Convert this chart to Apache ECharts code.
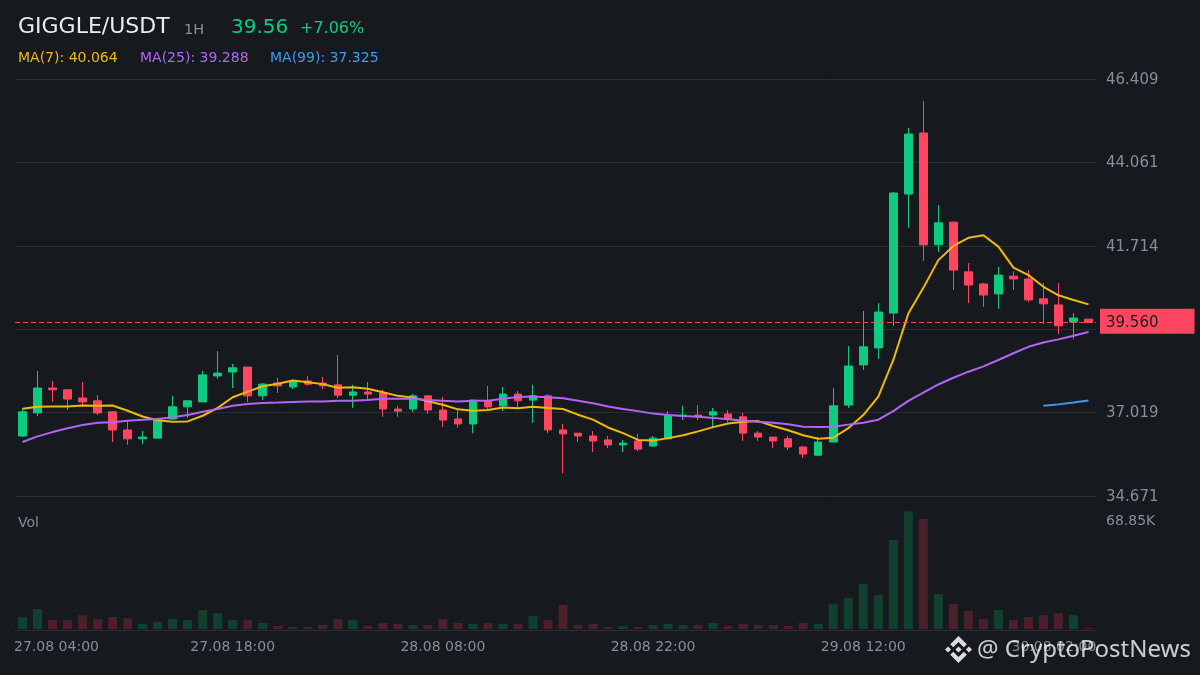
<!DOCTYPE html>
<html><head><meta charset="utf-8">
<style>html,body{margin:0;padding:0;background:#161a1e}#c{width:1200px;height:675px}</style>
<script src="https://cdn.jsdelivr.net/npm/echarts@6/dist/echarts.min.js"></script>
</head><body><div id="c"></div>
<script>
const opens=[36.36,37.01,37.71,37.66,37.43,37.35,37.04,36.53,36.28,36.30,36.84,37.18,37.32,38.05,38.16,38.30,37.49,37.85,37.74,37.91,37.85,37.80,37.51,37.60,37.57,37.12,37.12,37.49,37.09,36.84,36.70,37.35,37.21,37.54,37.37,37.49,36.53,36.44,36.36,36.25,36.11,36.22,36.08,36.28,36.92,36.95,36.95,36.98,36.90,36.44,36.33,36.28,36.05,35.82,36.19,37.23,38.36,38.84,39.82,43.17,44.89,41.74,42.38,40.98,40.64,40.36,40.86,40.78,40.22,40.05,39.57,39.65];
const closes=[37.04,37.71,37.66,37.40,37.32,37.01,36.53,36.28,36.33,36.84,37.18,37.35,38.08,38.13,38.28,37.49,37.82,37.77,37.91,37.82,37.77,37.51,37.60,37.54,37.12,37.06,37.49,37.09,36.81,36.70,37.37,37.18,37.54,37.35,37.49,36.53,36.42,36.36,36.22,36.11,36.16,35.99,36.30,36.95,36.95,36.90,37.04,36.84,36.44,36.33,36.22,36.05,35.85,36.19,37.21,38.33,38.87,39.85,43.20,44.86,41.74,42.36,41.03,40.61,40.33,40.89,40.78,40.19,40.08,39.46,39.68,39.56];
const lows=[36.33,36.92,37.32,37.09,37.18,36.95,36.19,36.11,36.13,36.30,36.81,36.87,37.32,37.97,37.71,37.32,37.37,37.57,37.68,37.77,37.68,37.43,37.15,37.37,36.90,36.90,37.04,36.98,36.61,36.59,36.44,37.09,37.06,37.15,36.73,36.44,35.31,36.19,35.91,36.02,35.91,35.93,36.05,36.28,36.81,36.81,36.61,36.75,36.22,36.22,36.02,35.96,35.74,35.79,36.19,37.15,38.22,38.53,39.46,42.22,41.29,41.54,40.47,40.10,39.99,39.94,40.47,40.13,39.51,39.23,39.09,39.56];
const highs=[37.15,38.19,37.91,37.66,37.88,37.51,37.06,36.78,36.50,36.87,37.49,37.35,38.19,38.75,38.39,38.30,37.85,38.00,37.94,38.05,38.02,38.64,37.80,37.88,37.66,37.21,37.54,37.49,37.46,37.09,37.37,37.77,37.74,37.63,37.80,37.54,36.70,36.44,36.50,36.36,36.25,36.42,36.36,37.06,37.21,37.23,37.15,37.09,37.01,36.50,36.33,36.36,36.08,36.33,37.71,38.89,39.88,40.10,43.23,45.03,45.79,42.86,42.38,41.23,40.67,41.12,41.00,41.03,40.67,40.67,39.82,39.65];
const ma7=[37.13,37.18,37.19,37.19,37.22,37.21,37.22,37.07,36.91,36.80,36.76,36.77,36.93,37.15,37.45,37.61,37.76,37.83,37.92,37.87,37.82,37.72,37.73,37.69,37.59,37.49,37.44,37.34,37.24,37.11,37.07,37.09,37.16,37.14,37.18,37.15,37.12,36.96,36.82,36.60,36.44,36.25,36.23,36.30,36.38,36.49,36.61,36.71,36.76,36.78,36.64,36.52,36.38,36.28,36.31,36.58,36.95,37.47,38.50,39.81,40.53,41.31,41.71,41.94,42.01,41.69,41.10,40.89,40.56,40.32,40.19,40.064];
const ma25=[36.19,36.35,36.47,36.58,36.67,36.73,36.75,36.79,36.82,36.84,36.89,36.95,37.04,37.12,37.21,37.26,37.29,37.30,37.32,37.33,37.33,37.35,37.35,37.37,37.41,37.41,37.41,37.37,37.35,37.33,37.35,37.35,37.41,37.46,37.47,37.45,37.42,37.35,37.28,37.19,37.12,37.06,36.99,36.95,36.92,36.90,36.87,36.83,36.79,36.76,36.73,36.69,36.62,36.61,36.62,36.68,36.73,36.82,37.06,37.35,37.58,37.81,38.00,38.17,38.32,38.50,38.69,38.87,38.99,39.08,39.18,39.288];
const ma99Tail=[37.21,37.25,37.30,37.36];
const volumesK=[7.6,12.6,5.7,5.7,8.8,6.3,7.6,6.9,3.2,4.4,6.3,5.7,12.0,10.1,5.7,5.7,3.8,1.9,1.3,1.3,2.5,6.3,5.7,1.9,3.8,3.2,2.5,2.5,6.3,3.8,3.2,3.8,3.2,3.2,8.2,5.7,15.2,2.5,3.2,1.3,1.9,1.3,2.5,3.2,2.5,2.5,3.8,1.9,3.2,2.5,2.5,1.9,3.8,3.2,15.8,19.6,28.4,21.5,56.2,74.5,69.5,22.1,15.8,11.4,6.3,12.0,5.7,7.6,8.8,10.1,8.8,0.6];
const priceTickLabels=['34.671','37.019','','41.714','44.061','46.409'];
const volumeTick=68.85;
const lastPrice=39.56;
const maLabels=['MA(7): 40.064','MA(25): 39.288','MA(99): 37.325'];
const timeLabels={0:'27.08 04:00',14:'27.08 18:00',28:'28.08 08:00',42:'28.08 22:00',56:'29.08 12:00',70:'30.08 02:00'};

const UP='#0ecb81',DOWN='#ff4560',MUTED='#848e9c',GRID='#2a2e33',BG='#161a1e';
const cats=opens.map((_,i)=>String(i));
const candle=opens.map((o,i)=>[o,closes[i],lows[i],highs[i]]);
const ma99=opens.map((_,i)=>{const k=i-(opens.length-ma99Tail.length);return k>=0?ma99Tail[k]:null;});
const vols=volumesK.map((v,i)=>({value:v,itemStyle:{color:closes[i]>=opens[i]?'#12402f':'#4a2029'}}));
const F='"DejaVu Sans"';
const txt=(text,x,y,fill,size,extra)=>({type:'text',z:50,silent:true,style:Object.assign({text,x,y,fill,font:size+'px '+F,textVerticalAlign:'middle'},extra||{})});
const maLine=(name,data,color)=>({name,type:'line',data,xAxisIndex:0,yAxisIndex:0,symbol:'none',showSymbol:false,smooth:false,z:5,connectNulls:false,lineStyle:{color,width:2},itemStyle:{color}});
const logoParts=[
 [[38.73,53.2],[63.32,28.62],[87.92,53.22],[102.22,38.91],[63.32,0],[24.43,38.9]],
 [[0,63.31],[14.3,49],[28.61,63.31],[14.3,77.61]],
 [[38.73,73.41],[63.32,98],[87.92,73.4],[102.23,87.69],[63.32,126.61],[24.43,87.71]],
 [[98,63.31],[112.3,49],[126.61,63.3],[112.3,77.62]],
 [[77.83,63.3],[63.32,48.78],[48.81,63.28],[63.32,77.78]]
];
const logo=logoParts.map(points=>({type:'polygon',z:60,silent:true,x:945,y:636,scaleX:0.2133,scaleY:0.2133,shape:{points},style:{fill:'rgba(255,255,255,0.85)'}}));

const chart=echarts.init(document.getElementById('c'),null,{renderer:'canvas'});
chart.setOption({
  animation:false,backgroundColor:BG,
  grid:[{left:15,width:1081,top:79,height:417},{left:15,width:1081,top:511,height:119}],
  xAxis:[
    {type:'category',gridIndex:0,data:cats,boundaryGap:true,axisLine:{show:false},axisTick:{show:false},axisLabel:{show:false},splitLine:{show:false}},
    {type:'category',gridIndex:1,data:cats,boundaryGap:true,axisLine:{show:true,onZero:false,lineStyle:{color:GRID,width:1}},axisTick:{show:false},splitLine:{show:false},
     axisLabel:{show:true,interval:0,hideOverlap:false,margin:10,color:MUTED,fontSize:14,fontFamily:F,
       formatter:(v)=>{const t=timeLabels[+v];if(!t)return '';return +v===0?'{a|'+t+'}':+v===70?'{b|'+t+'}':t;},
       rich:{a:{padding:[0,0,0,68],color:MUTED,fontSize:14,fontFamily:F},b:{padding:[0,39,0,0],color:MUTED,fontSize:14,fontFamily:F}}}}
  ],
  yAxis:[
    {type:'value',gridIndex:0,position:'right',min:34.671,max:46.409,interval:2.3476,axisLine:{show:false},axisTick:{show:false},
     splitLine:{show:true,lineStyle:{color:GRID,width:1}},
     axisLabel:{margin:10,color:MUTED,fontSize:15,fontFamily:F,formatter:(v,i)=>priceTickLabels[i]?'{p|'+priceTickLabels[i]+'}':'',
       rich:{p:{padding:[2,0,0,0],color:MUTED,fontSize:15,fontFamily:F}}}},
    {type:'value',gridIndex:1,position:'right',min:-0.63,max:74.6,axisLine:{show:false},axisTick:{show:false},splitLine:{show:false},
     axisLabel:{margin:10,color:MUTED,fontSize:14,fontFamily:F,customValues:[volumeTick],formatter:(v)=>'{p|'+v.toFixed(2)+'K}',
       rich:{p:{padding:[2,0,0,0],color:MUTED,fontSize:14,fontFamily:F}}}}
  ],
  series:[
    {name:'Price',type:'candlestick',xAxisIndex:0,yAxisIndex:0,data:candle,barWidth:8,z:3,
     itemStyle:{color:UP,color0:DOWN,borderColor:UP,borderColor0:DOWN,borderWidth:1},
     markLine:{silent:true,symbol:'none',animation:false,z:6,precision:3,
       lineStyle:{color:DOWN,type:[5,3],width:1},
       label:{show:true,position:'end',distance:4,offset:[0,-1],formatter:'{t|'+lastPrice.toFixed(3)+'}',
         rich:{t:{color:'#181a20',fontSize:15,fontFamily:F,padding:[4,0,0,0]}},
         backgroundColor:DOWN,padding:[3,36,3,6]},
       data:[{yAxis:lastPrice}]}},
    maLine('MA7',ma7,'#f0b90b'),
    maLine('MA25',ma25,'#b265f5'),
    maLine('MA99',ma99,'#4299f0'),
    {name:'Vol',type:'bar',xAxisIndex:1,yAxisIndex:1,data:vols,barWidth:9,z:2}
  ],
  graphic:{elements:[
    txt('GIGGLE/USDT',18,27.5,'#eaecef',22),
    txt('1H',184,30,MUTED,14.5),
    txt('39.56',231,27.5,UP,20),
    txt('+7.06%',300,29,UP,16),
    txt(maLabels[0],18,58,'#f0b90b',14),
    txt(maLabels[1],140,58,'#b265f5',14),
    txt(maLabels[2],270,58,'#4299f0',14),
    txt('Vol',18,523,MUTED,14),
    ...logo,
    {type:'text',z:60,silent:true,style:{text:'@ CryptoPostNews',x:977,y:650.5,fill:'rgba(255,255,255,0.78)',font:'24px "Noto Sans"',textVerticalAlign:'middle'}}
  ]}
});
</script></body></html>
